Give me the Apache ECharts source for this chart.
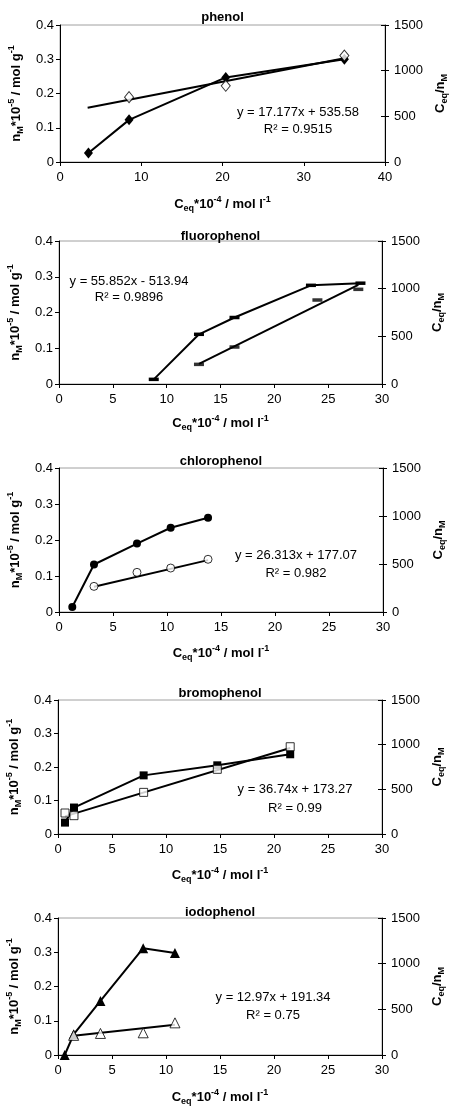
<!DOCTYPE html>
<html><head><meta charset="utf-8">
<script src="https://cdn.jsdelivr.net/npm/echarts@6/dist/echarts.min.js"></script>
<style>html,body{margin:0;padding:0;background:#fff}#c{width:449px;height:1107px}</style>
</head><body><div id="c"></div>
<script>
// ---- data ----
const panelNames = ['phenol', 'fluorophenol', 'chlorophenol', 'bromophenol', 'iodophenol'];
const xMax = [40, 30, 30, 30, 30];
const xStep = [10, 5, 5, 5, 5];

const phenolX = [3.5, 8.5, 20.4, 35.0];
const phenolN = [0.026, 0.123, 0.247, 0.300];
const phenolRatioX = [8.5, 20.4, 35.0];
const phenolRatio = [710, 834, 1165];
const phenolFit = [17.177, 535.58, 0.9515];
const phenolFitRange = [3.4, 35.0];

const fluoroX = [8.8, 13.0, 16.3, 23.4, 28.0];
const fluoroN = [0.013, 0.139, 0.186, 0.276, 0.282];
const fluoroRatioX = [13.0, 16.3, 24.0, 27.8];
const fluoroRatio = [206, 388, 881, 993];
const fluoroFit = [55.852, -513.94, 0.9896];
const fluoroFitRange = [13.0, 27.8];

const chloroX = [1.23, 3.24, 7.22, 10.34, 13.8];
const chloroN = [0.014, 0.132, 0.190, 0.234, 0.262];
const chloroRatioX = [3.24, 7.22, 10.34, 13.8];
const chloroRatio = [267, 413, 458, 549];
const chloroFit = [26.313, 177.07, 0.982];
const chloroFitRange = [3.24, 13.8];

const bromoX = [0.65, 1.48, 7.93, 14.75, 21.5];
const bromoN = [0.034, 0.079, 0.175, 0.205, 0.238];
const bromoRatioX = [0.65, 1.48, 7.93, 14.75, 21.5];
const bromoRatio = [235, 205, 466, 724, 977];
const bromoFit = [36.74, 173.27, 0.99];
const bromoFitRange = [0.65, 21.5];

const iodoX = [0.62, 1.45, 3.93, 7.89, 10.83];
const iodoN = [0.0, 0.0605, 0.158, 0.312, 0.298];
const iodoRatioX = [1.45, 3.93, 7.89, 10.83];
const iodoRatio = [215, 236, 243, 352];
const iodoFit = [12.97, 191.34, 0.75];
const iodoFitRange = [1.45, 10.83];

const leftMax = 0.4, leftStep = 0.1;
const rightMax = 1500, rightStep = 500;

// ---- layout / style ----
const FONT = '"Liberation Sans", Arial, sans-serif';
const grids = [
  {left: 60, top: 25, width: 325, height: 137},
  {left: 59, top: 241, width: 323, height: 143},
  {left: 59, top: 468, width: 324, height: 144},
  {left: 58, top: 700, width: 324, height: 134},
  {left: 58, top: 918, width: 324, height: 137}
];
const titleY = [17.5, 236, 461, 693.5, 912.5];
const xNameGap = [33, 30, 32, 32, 33];
const eqPos = [[298, 112, 129], [129, 281, 297], [296, 555, 573], [295, 789, 808], [273, 997, 1015]];
const filledSymbols = [
  {symbol: 'diamond', size: [9, 11]},
  {symbol: 'rect', size: [10, 3.5]},
  {symbol: 'circle', size: 8},
  {symbol: 'rect', size: 8},
  {symbol: 'triangle', size: 10}
];
const openFilled = [false, true, false, false, false];

const sets = [
  [phenolX, phenolN, phenolRatioX, phenolRatio, phenolFit, phenolFitRange],
  [fluoroX, fluoroN, fluoroRatioX, fluoroRatio, fluoroFit, fluoroFitRange],
  [chloroX, chloroN, chloroRatioX, chloroRatio, chloroFit, chloroFitRange],
  [bromoX, bromoN, bromoRatioX, bromoRatio, bromoFit, bromoFitRange],
  [iodoX, iodoN, iodoRatioX, iodoRatio, iodoFit, iodoFitRange]
];

const rich = {
  b: {fontFamily: FONT, fontWeight: 'bold', fontSize: 13, lineHeight: 18, color: '#000'},
  sub: {fontFamily: FONT, fontWeight: 'bold', fontSize: 9, lineHeight: 9, verticalAlign: 'bottom', color: '#000'},
  sup: {fontFamily: FONT, fontWeight: 'bold', fontSize: 9, lineHeight: 9, verticalAlign: 'top', color: '#000'}
};
const xName = '{b|C}{sub|eq}{b|*10}{sup|-4}{b| / mol l}{sup|-1}';
const yName = '{b|n}{sub|M}{b|*10}{sup|-5}{b| / mol g}{sup|-1}';
const rName = '{b|C}{sub|eq}{b|/n}{sub|M}';

const xAxes = [], yAxes = [], series = [], graphics = [];
const lbl = {fontFamily: FONT, fontSize: 13, color: '#000'};

grids.forEach((g, i) => {
  xAxes.push({
    type: 'value', gridIndex: i, min: 0, max: xMax[i], interval: xStep[i],
    axisLine: {lineStyle: {color: '#000', width: 1}}, axisTick: {length: 4, lineStyle: {color: '#000'}},
    axisLabel: Object.assign({margin: 9}, lbl), splitLine: {show: false},
    name: xName, nameLocation: 'middle', nameGap: xNameGap[i], nameTextStyle: {rich}
  });
  yAxes.push({
    type: 'value', gridIndex: i, position: 'left', min: 0, max: leftMax, interval: leftStep,
    axisLine: {show: true, lineStyle: {color: '#000'}}, axisTick: {show: true, length: 4, lineStyle: {color: '#000'}},
    axisLabel: Object.assign({margin: 6}, lbl), splitLine: {show: false},
    name: yName, nameLocation: 'middle', nameGap: 34, nameRotate: 90, nameTextStyle: {rich}
  });
  yAxes.push({
    type: 'value', gridIndex: i, position: 'right', min: 0, max: rightMax, interval: rightStep,
    axisLine: {show: true, lineStyle: {color: '#000'}}, axisTick: {show: true, length: 4, lineStyle: {color: '#000'}},
    axisLabel: Object.assign({margin: 9, formatter: v => String(v)}, lbl), splitLine: {show: false},
    name: rName, nameLocation: 'middle', nameGap: 46, nameRotate: 90, nameTextStyle: {rich}
  });
});
// inner half of the crossing ticks on the right axes
grids.forEach((g, i) => {
  yAxes.push({
    type: 'value', gridIndex: i, position: 'right', min: 0, max: rightMax, interval: rightStep,
    axisLine: {show: false}, axisTick: {show: true, inside: true, length: 4, lineStyle: {color: '#000'}},
    axisLabel: {show: false}, splitLine: {show: false}
  });
});

sets.forEach((s, i) => {
  const [xs, ns, rx, rv, fit, range] = s;
  const fs = filledSymbols[i];
  const g = grids[i];
  series.push({
    type: 'line', xAxisIndex: i, yAxisIndex: 2 * i, clip: false,
    data: xs.map((x, k) => [x, ns[k]]),
    symbol: fs.symbol, symbolSize: fs.size, showSymbol: true,
    itemStyle: {color: '#000'}, lineStyle: {color: '#000', width: 2}, z: 3, animation: false
  });
  series.push({
    type: 'line', xAxisIndex: i, yAxisIndex: 2 * i + 1, clip: false,
    data: range.map(x => [x, fit[0] * x + fit[1]]),
    showSymbol: false, lineStyle: {color: '#000', width: 2}, z: 2, animation: false
  });
  series.push({
    type: 'scatter', xAxisIndex: i, yAxisIndex: 2 * i + 1, clip: false,
    data: rx.map((x, k) => [x, rv[k]]),
    symbol: fs.symbol, symbolSize: fs.size,
    itemStyle: openFilled[i] ? {color: '#000'} : {color: '#fff', borderColor: '#000', borderWidth: 1},
    z: 4, animation: false
  });
  graphics.push({
    type: 'text', x: g.left + g.width / 2, y: titleY[i],
    style: {text: panelNames[i], font: 'bold 13px ' + FONT, fill: '#000', align: 'center', verticalAlign: 'middle'}
  });
  const sign = fit[1] < 0 ? ' - ' : ' + ';
  graphics.push({
    type: 'text', x: eqPos[i][0], y: eqPos[i][1],
    style: {text: 'y = ' + fit[0] + 'x' + sign + Math.abs(fit[1]), font: '13px ' + FONT, fill: '#000', align: 'center', verticalAlign: 'middle'}
  });
  graphics.push({
    type: 'text', x: eqPos[i][0], y: eqPos[i][2],
    style: {text: 'R\u00b2 = ' + fit[2], font: '13px ' + FONT, fill: '#000', align: 'center', verticalAlign: 'middle'}
  });
});

const chart = echarts.init(document.getElementById('c'), null, {renderer: 'canvas'});
chart.setOption({
  backgroundColor: '#fff',
  animation: false,
  grid: grids.map(g => Object.assign({show: true, borderColor: '#a0a0a0', borderWidth: 1, backgroundColor: 'transparent', containLabel: false, outerBoundsMode: 'none'}, g)),
  xAxis: xAxes,
  yAxis: yAxes,
  series: series,
  graphic: graphics
});
</script></body></html>
